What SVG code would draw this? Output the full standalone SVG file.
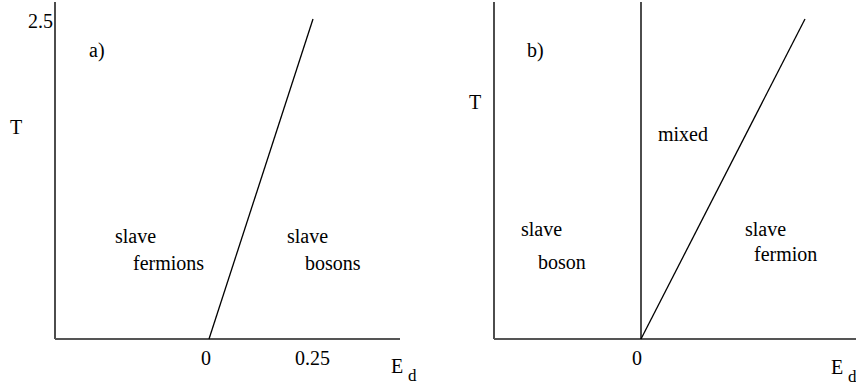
<svg xmlns="http://www.w3.org/2000/svg" width="856" height="385" viewBox="0 0 856 385">
<style>
text{font-family:'Liberation Serif','Times New Roman',Times,serif;font-size:20px;fill:#000}
.ax{stroke:#000;stroke-width:1.4;fill:none}
.xax{stroke:#555;stroke-width:2;fill:none}
.ln{stroke:#000;stroke-width:1.3;fill:none}
.sub{font-size:17px}
</style>
<rect width="856" height="385" fill="#fff"/>
<g id="connectors">
<line class="ax" x1="55" y1="2" x2="55" y2="339"/>
<line class="xax" x1="55" y1="339" x2="400" y2="339"/>
<line class="ln" x1="209" y1="339" x2="313" y2="19"/>
<line class="ax" x1="494" y1="2" x2="494" y2="339"/>
<line class="xax" x1="494" y1="339" x2="856" y2="339"/>
<line class="ax" x1="641" y1="2" x2="641" y2="339"/>
<line class="ln" x1="641" y1="339" x2="805" y2="19"/>
</g>
<g id="panel-a" font-family="Liberation Serif, serif">
<text x="28" y="28">2.5</text>
<text x="89" y="57">a)</text>
<text x="10" y="134">T</text>
<text x="115" y="243">slave</text>
<text x="133" y="270">fermions</text>
<text x="287" y="243">slave</text>
<text x="305" y="270">bosons</text>
<text x="201" y="365">0</text>
<text x="295" y="365">0.25</text>
<text x="391" y="373">E</text>
<text class="sub" x="408" y="381">d</text>
</g>
<g id="panel-b" font-family="Liberation Serif, serif">
<text x="527" y="57">b)</text>
<text x="469" y="109">T</text>
<text x="658" y="141">mixed</text>
<text x="521" y="236">slave</text>
<text x="538" y="269">boson</text>
<text x="745" y="236">slave</text>
<text x="754" y="261">fermion</text>
<text x="632" y="365">0</text>
<text x="831" y="374">E</text>
<text class="sub" x="848" y="382">d</text>
</g>
</svg>
